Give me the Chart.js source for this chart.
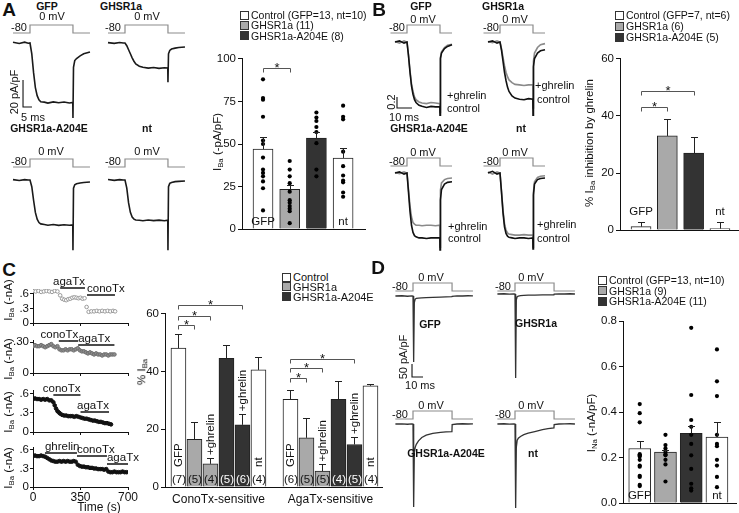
<!DOCTYPE html>
<html>
<head>
<meta charset="utf-8">
<script src="https://cdn.jsdelivr.net/npm/chart.js@4.4.1/dist/chart.umd.min.js"></script>
<style>
  body { margin: 0; background: #fff; }
  #fig { position: relative; width: 739px; height: 513px; overflow: hidden; background: #fff;
         font-family: 'Liberation Sans', Arial, Helvetica, sans-serif; color: #111; }
  #fig canvas { position: absolute; }
  .t { position: absolute; white-space: nowrap; transform: translate(-50%, -50%); font-size: 11px; line-height: 1; }
  .l { transform: translate(0, -50%); }
  .r { transform: translate(-50%, -50%) rotate(-90deg); }
  .b { font-weight: bold; font-size: 10.5px; }
  .big { font-weight: bold; font-size: 19px; }
  sub { font-size: 0.68em; vertical-align: -0.25em; line-height: 0; }
</style>
</head>
<body>
<div id="fig"></div>
<script>
// ---------- panel A: I_Ba traces (ms, pA/pF) ----------
const aTraceT = [-9.5, -6, -3, -1, 0, 1, 2, 3, 4, 5, 6, 8, 10, 13, 16, 19, 22, 23.9, 24, 24.3, 25, 26, 28, 30, 33.5];
const aGfpI = [0.5, -0.4, 0.6, -0.2, 0, -8, -22, -33, -39, -42, -43.5, -43.8, -44.5, -43.6, -44.3, -43.7, -44.4, -44, -55.5, -18, -13, -11.5, -9.5, -8, -6.7];
const aGhsI = [0.3, -0.3, 0.4, 0, 0, -2, -5, -8, -11, -13.5, -15.5, -17.2, -18, -18.6, -18.2, -18.8, -18.3, -18.5, -29, -8, -5.5, -4.5, -3.8, -3.3, -3];
const aMutI = [0.3, -0.4, 0.3, 0, 0, -5, -15, -24, -29, -31.5, -32.5, -33, -33.5, -33, -33.6, -33.1, -33.5, -33.3, -52, -6, -3.5, -2.8, -2.2, -1.8, -1.5];
const aNtI = [0.4, -0.3, 0.3, 0, 0, -6, -17, -24, -27.5, -29, -29.6, -29.8, -30.2, -29.6, -30.1, -29.7, -30.2, -29.8, -52, -5, -2.5, -1.8, -1.2, -1, -0.7];
const aStepT = [-9.5, 0, 0, 24, 24, 33.5];
const aStepV = [-80, -80, 0, 0, -80, -80];

// panel A bars: I_Ba density
const aGroups = ['GFP', 'GHSR1a', 'GHSR1a-A204E', 'nt'];
const aMean = [47, 23.3, 53.5, 41.8];
const aSem = [7, 2.5, 3.5, 6];
const aDots = [
  [88, 77, 76, 66, 52, 50, 42, 35, 33, 31, 28, 24, 11],
  [40, 35, 31, 27, 22, 17, 15.5, 13.5, 12, 10.5, 3.5],
  [68.5, 65.5, 63.5, 60, 57, 50.5, 35, 31],
  [72.5, 66, 64.5, 45.5, 37, 31.5, 28.5, 27.5, 21.5, 19]
];
const aTicks = [0, 25, 50, 75, 100];

// ---------- panel B: traces, control vs +ghrelin (normalized) ----------
const bTraceT = [-8, -5, -2, 0, 1, 2, 3, 4, 5, 6, 8, 10, 13, 16, 19, 21.9, 22, 22.3, 23, 25, 27, 30];
const bGfpCtl = [0, 0.02, -0.02, 0, -0.25, -0.55, -0.8, -0.95, -1.05, -1.1, -1.15, -1.17, -1.19, -1.17, -1.18, -1.18, -1.33, -0.3, -0.2, -0.12, -0.08, -0.05];
const bGfpGhr = [0.01, -0.02, 0.02, 0, -0.24, -0.52, -0.76, -0.9, -1.0, -1.05, -1.09, -1.11, -1.12, -1.1, -1.11, -1.12, -1.28, -0.28, -0.18, -0.1, -0.06, -0.04];
const bGhsCtl = [0, 0.02, -0.02, 0, -0.15, -0.35, -0.55, -0.7, -0.82, -0.9, -0.98, -1.02, -1.04, -1.05, -1.03, -1.04, -1.33, -0.45, -0.3, -0.2, -0.16, -0.14];
const bGhsGhr = [0.01, -0.01, 0.02, 0, -0.12, -0.28, -0.43, -0.55, -0.63, -0.69, -0.74, -0.77, -0.78, -0.79, -0.78, -0.78, -1.2, -0.35, -0.2, -0.1, -0.05, -0.03];
const bMutCtl = [0, 0.02, -0.02, 0, -0.35, -0.7, -0.95, -1.08, -1.14, -1.16, -1.18, -1.18, -1.19, -1.18, -1.18, -1.18, -1.4, -0.49, -0.3, -0.2, -0.17, -0.16];
const bMutGhr = [0.01, -0.01, 0.02, 0, -0.3, -0.6, -0.8, -0.9, -0.93, -0.95, -0.95, -0.96, -0.95, -0.95, -0.96, -0.95, -1.35, -0.31, -0.18, -0.12, -0.1, -0.09];
const bNtCtl = [0, 0.03, -0.02, 0, -0.35, -0.72, -0.98, -1.1, -1.15, -1.17, -1.18, -1.19, -1.18, -1.18, -1.19, -1.18, -1.38, -0.4, -0.2, -0.12, -0.1, -0.09];
const bNtGhr = [0.02, -0.02, 0.02, 0, -0.33, -0.68, -0.92, -1.04, -1.09, -1.11, -1.12, -1.13, -1.13, -1.12, -1.13, -1.13, -1.35, -0.35, -0.16, -0.08, -0.06, -0.05];
const bStepT = [-11, 0, 0, 22, 22, 30];
const bStepV = [-80, -80, 0, 0, -80, -80];

// panel B bars: % inhibition by ghrelin
const bMean = [1.2, 33, 27, 0.5];
const bSem = [1.8, 6, 5.7, 2.5];
const bTicks = [0, 20, 40, 60];

// ---------- panel C: time courses (s, -nA) ----------
const c1T = [0, 20, 40, 60, 80, 100, 120, 140, 160, 180, 200, 215, 230, 245, 260, 275, 290, 305, 320, 335, 350, 365, 380, 395, 410, 430, 450, 470, 490, 510, 530, 550, 570, 590, 605];
const c1I = [0.66, 0.65, 0.66, 0.64, 0.65, 0.66, 0.65, 0.64, 0.66, 0.65, 0.57, 0.5, 0.48, 0.47, 0.49, 0.5, 0.52, 0.53, 0.52, 0.51, 0.52, 0.5, 0.51, 0.33, 0.23, 0.24, 0.24, 0.25, 0.24, 0.25, 0.24, 0.25, 0.24, 0.25, 0.24];
const c2T = [0, 15, 30, 45, 60, 75, 90, 105, 120, 135, 150, 165, 180, 195, 210, 225, 240, 255, 270, 285, 300, 315, 330, 345, 360, 375, 390, 405, 420, 435, 450, 465, 480, 495, 510, 525, 540, 555, 570, 585, 600];
const c2I = [0.26, 0.27, 0.26, 0.26, 0.27, 0.26, 0.25, 0.26, 0.27, 0.28, 0.26, 0.25, 0.26, 0.23, 0.22, 0.22, 0.23, 0.22, 0.23, 0.23, 0.22, 0.23, 0.24, 0.22, 0.21, 0.21, 0.2, 0.19, 0.2, 0.19, 0.18, 0.19, 0.18, 0.18, 0.17, 0.18, 0.18, 0.17, 0.18, 0.18, 0.18];
const c3T = [0, 15, 30, 45, 60, 75, 90, 105, 120, 135, 150, 160, 170, 180, 190, 200, 215, 230, 245, 260, 275, 290, 305, 320, 335, 350, 365, 380, 395, 410, 425, 440, 455, 470, 485, 500, 515, 530, 545, 560, 575];
const c3I = [0.52, 0.53, 0.52, 0.52, 0.51, 0.52, 0.51, 0.52, 0.5, 0.5, 0.47, 0.42, 0.37, 0.33, 0.31, 0.29, 0.27, 0.26, 0.26, 0.25, 0.25, 0.25, 0.24, 0.25, 0.24, 0.23, 0.22, 0.21, 0.21, 0.2, 0.19, 0.18, 0.18, 0.17, 0.16, 0.16, 0.15, 0.14, 0.14, 0.13, 0.12];
const c4T = [0, 15, 30, 45, 60, 75, 90, 105, 120, 135, 150, 165, 180, 195, 210, 225, 240, 255, 270, 285, 300, 315, 330, 345, 360, 375, 390, 405, 420, 435, 450, 465, 480, 495, 510, 525, 540, 555, 570, 585, 600, 615, 630, 645, 660, 675, 690];
const c4I = [0.5, 0.51, 0.5, 0.5, 0.51, 0.5, 0.49, 0.47, 0.45, 0.43, 0.42, 0.41, 0.41, 0.42, 0.41, 0.42, 0.41, 0.42, 0.41, 0.41, 0.42, 0.41, 0.36, 0.34, 0.33, 0.33, 0.32, 0.32, 0.31, 0.31, 0.3, 0.3, 0.29, 0.29, 0.29, 0.28, 0.29, 0.25, 0.24, 0.24, 0.25, 0.24, 0.24, 0.24, 0.25, 0.24, 0.24];
// drug applications [name, start s, end s]
const c1Apps = [['agaTx', 200, 383], ['conoTx', 398, 604]];
const c2Apps = [['conoTx', 190, 333], ['agaTx', 333, 600]];
const c3Apps = [['conoTx', 150, 350], ['agaTx', 350, 560]];
const c4Apps = [['ghrelin', 88, 324], ['conoTx', 324, 545], ['agaTx', 545, 700]];
const tcTicks = [0, 350, 700];
const tcTickLbl = ['0', '350', '700'];

// panel C bars: % I_Ba sensitive to toxins
const cCats = ['ConoTx-sensitive', 'AgaTx-sensitive'];
const cBars = ['GFP', 'GHSR1a', 'GHSR1a +ghrelin', 'GHSR1a-A204E', 'GHSR1a-A204E +ghrelin', 'nt'];
const cCono = [48, 16.5, 8, 44.5, 21.5, 40.5];
const cConoSem = [5, 6, 2, 4.5, 3.7, 4.5];
const cAga = [30.3, 17, 5.5, 30.3, 14.7, 35];
const cAgaSem = [3.2, 7, 2.3, 6.2, 2.6, 0.7];
const cConoN = [7, 5, 4, 5, 6, 4];
const cAgaN = [6, 5, 5, 4, 5, 4];
const cTicks = [0, 20, 40, 60];

// ---------- panel D: I_Na traces (ms, pA/pF) ----------
const dTraceT = [-16, -10, -5, -1, 0, 0.4, 0.8, 1.2, 2, 3, 5, 8, 12, 18, 25, 30, 35.4, 35.6, 40, 45, 50, 54.5];
const dGfpI = [0, 1, -1, 0.5, 0, -150, -254, -25, -12, -9, -8, -7, -6, -5, -4, -3, -2.5, -1, 0.5, 0, 1, 0.5];
const dGhsI = [0, 1, -0.5, 0.5, 0, -200, -323, -22, -10, -8, -6, -5, -4.5, -4, -3.5, -3, -3, -0.5, 0.5, 0, 1, 0];
const dMutI = [0, 0.5, -1, 0.5, 0, -200, -319, -110, -90, -78, -65, -52, -43, -36, -32, -30.5, -29, -2, 0, 1, 0, 0.5];
const dNtI = [0, 1, -0.5, 0.5, 0, -200, -323, -90, -62, -55, -48, -41, -35, -29, -22, -18, -15, -2, 0, 0.5, 1, 0];
const dStepT = [-16, 0, 0, 35.5, 35.5, 54.5];
const dStepV = [-80, -80, 0, 0, -80, -80];

// panel D bars: I_Na density
const dMean = [0.24, 0.224, 0.306, 0.29];
const dSem = [0.033, 0.008, 0.032, 0.065];
const dDots = [
  [0.435, 0.395, 0.355, 0.215, 0.21, 0.205, 0.19, 0.165, 0.16, 0.12, 0.115, 0.08, 0.075],
  [0.3, 0.255, 0.24, 0.225, 0.215, 0.21, 0.19, 0.17, 0.095],
  [0.77, 0.475, 0.365, 0.335, 0.3, 0.26, 0.21, 0.15, 0.085, 0.065, 0.055],
  [0.675, 0.535, 0.47, 0.3, 0.26, 0.25, 0.19, 0.165, 0.115, 0.07]
];
const dTicks = [0, 0.2, 0.4, 0.6, 0.8];

// ---------- helpers ----------
const FF = "'Liberation Sans', Arial, Helvetica, sans-serif";
Chart.defaults.font.family = FF;
Chart.defaults.font.size = 11;
Chart.defaults.color = '#111';
const fig = document.getElementById('fig');
const WHITE = '#ffffff', GREY = '#a9a9a9', DARK = '#333333';

function xy(ts, vs) { return ts.map((t, i) => ({ x: t, y: vs[i] })); }

function mk(b) {
  const c = document.createElement('canvas');
  c.width = b.w; c.height = b.h;
  c.style.left = b.l + 'px'; c.style.top = b.t + 'px';
  c.style.width = b.w + 'px'; c.style.height = b.h + 'px';
  fig.appendChild(c);
  return c;
}

function T(x, y, s, cls, css) {
  const d = document.createElement('div');
  d.className = 't ' + (cls || '');
  d.style.left = x + 'px'; d.style.top = y + 'px';
  d.innerHTML = s;
  if (css) d.style.cssText += css;
  fig.appendChild(d);
}

function legend(x, y, dy, items, fs) {
  items.forEach(([s, c], i) => {
    const yy = y + i * dy;
    const b = document.createElement('div');
    b.style.cssText = `position:absolute;left:${x}px;top:${yy - 4.5}px;width:7px;height:7px;background:${c};border:1px solid #333`;
    fig.appendChild(b);
    T(x + 11, yy, s, 'l', 'font-size:' + fs + 'px');
  });
}

// trace chart: pixel mapping given by time-zero pixel, current-zero pixel and 0 mV pixel
function trace(box, t0px, kx, i0px, ky, v0px, sets) {
  new Chart(mk(box), {
    type: 'line',
    data: { datasets: sets },
    options: {
      responsive: false, animation: false, events: [],
      layout: { padding: 0 },
      elements: { point: { radius: 0 }, line: { tension: 0 } },
      plugins: { legend: { display: false }, tooltip: { enabled: false } },
      scales: {
        x: { type: 'linear', display: false, min: (box.l - t0px) / kx, max: (box.l + box.w - t0px) / kx },
        y: { display: false, min: (i0px - box.t - box.h) / ky, max: (i0px - box.t) / ky },
        v: { axis: 'y', display: false, min: (v0px - box.t - box.h) / 0.1, max: (v0px - box.t) / 0.1 }
      }
    }
  });
}
function line(t, v, color, w, axis) {
  return { data: xy(t, v), borderColor: color, borderWidth: w, yAxisID: axis || 'y', pointRadius: 0 };
}
function scaleBar(t, i, dt, di) {
  return line([t, t, t + dt], [i + di, i, i], '#111', 1.1);
}

// bar chart with error bars, dots, significance brackets and labels
function bars(box, area, o) {
  const datasets = [{
    type: 'bar', order: 2,
    data: o.xs.map((x, i) => ({ x, y: o.vals[i] })),
    backgroundColor: o.fills, borderColor: '#222', borderWidth: 1, barThickness: o.bw
  }];
  if (o.dots) {
    datasets.push({
      type: 'scatter', order: 1,
      data: o.dots.flatMap((arr, i) => arr.map(v => ({ x: o.xs[i], y: v }))),
      pointRadius: 2.1, backgroundColor: '#000', borderWidth: 0
    });
  }
  const extras = {
    id: 'extras',
    afterDatasetsDraw(ch) {
      const ctx = ch.ctx, X = ch.scales.x, Y = ch.scales.y, bottom = ch.chartArea.bottom;
      ctx.save();
      ctx.strokeStyle = '#222'; ctx.lineWidth = 1;
      o.xs.forEach((x, i) => {
        const px = Math.round(X.getPixelForValue(x)) + 0.5;
        const y0 = Y.getPixelForValue(o.vals[i]), y1 = Math.round(Y.getPixelForValue(o.vals[i] + o.err[i])) + 0.5;
        ctx.beginPath(); ctx.moveTo(px, y0); ctx.lineTo(px, y1);
        ctx.moveTo(px - 3.5, y1); ctx.lineTo(px + 3.5, y1); ctx.stroke();
      });
      ctx.strokeStyle = '#555'; ctx.fillStyle = '#111';
      (o.sig || []).forEach(([a, b], k) => {
        const x1 = Math.round(X.getPixelForValue(o.xs[a])) + 0.5, x2 = Math.round(X.getPixelForValue(o.xs[b])) + 0.5;
        const y = Math.round(Y.getPixelForValue(o.sigY[k])) + 0.5;
        ctx.beginPath(); ctx.moveTo(x1, y + 4); ctx.lineTo(x1, y); ctx.lineTo(x2, y); ctx.lineTo(x2, y + 4); ctx.stroke();
        ctx.font = '13px ' + FF; ctx.textAlign = 'center'; ctx.textBaseline = 'alphabetic';
        ctx.fillText('*', (x1 + x2) / 2, y + 3.5);
      });
      ctx.font = '11.5px ' + FF;
      (o.tags || []).forEach((s, i) => {
        if (!s) return;
        const px = X.getPixelForValue(o.xs[i]);
        if (o.tagMode === 'rot') {
          const yb = s === '+ghrelin' ? Y.getPixelForValue(o.vals[i] + o.err[i]) - 3 : bottom - 20;
          ctx.save(); ctx.translate(px + 0.5, yb); ctx.rotate(-Math.PI / 2);
          ctx.textAlign = 'left'; ctx.textBaseline = 'middle'; ctx.fillStyle = '#111';
          ctx.fillText(s, 0, 0); ctx.restore();
        } else {
          ctx.textAlign = 'center'; ctx.textBaseline = 'middle';
          const y = o.tagMode === 'above' ? Y.getPixelForValue(o.vals[i] + o.err[i]) - 10 : bottom - 7;
          ctx.fillText(s, px, y);
        }
      });
      (o.counts || []).forEach((n, i) => {
        ctx.fillStyle = o.fills[i] === DARK ? '#fff' : '#111';
        ctx.textAlign = 'center'; ctx.textBaseline = 'middle';
        ctx.fillText('(' + n + ')', X.getPixelForValue(o.xs[i]) + 0.5, bottom - 7);
      });
      ctx.fillStyle = '#111'; ctx.font = '12px ' + FF;
      (o.cats || []).forEach(([s, xc]) => {
        ctx.textAlign = 'center'; ctx.textBaseline = 'middle';
        ctx.fillText(s, X.getPixelForValue(xc), bottom + 13);
      });
      ctx.restore();
    }
  };
  new Chart(mk(box), {
    type: 'bar',
    data: { datasets },
    options: {
      responsive: false, animation: false, events: [],
      layout: { padding: { top: area.t - box.t, right: box.l + box.w - area.r, left: 0, bottom: 0 } },
      plugins: { legend: { display: false }, tooltip: { enabled: false } },
      scales: {
        x: {
          type: 'linear', min: o.xmin, max: o.xmax, offset: false,
          grid: { display: false, offset: false }, ticks: { display: false },
          border: { color: '#111' },
          afterFit: s => { s.height = box.t + box.h - area.b; }
        },
        y: {
          min: o.ticks[0], max: o.ticks[o.ticks.length - 1],
          afterBuildTicks: s => { s.ticks = o.ticks.map(value => ({ value })); },
          ticks: { callback: (v, i) => o.tickLbl[i], font: { size: 11.5 }, color: '#111', padding: 2 },
          grid: { drawOnChartArea: false, tickLength: 4, color: '#111' },
          border: { color: '#111' },
          afterFit: s => { s.width = area.l - box.l; }
        }
      }
    },
    plugins: [extras]
  });
}

// time-course scatter with drug application bars
function timeCourse(box, area, ymax, ticks, lbls, t, v, pt, apps, lv, al, showX) {
  const appsPlugin = {
    id: 'apps',
    afterDatasetsDraw(ch) {
      const ctx = ch.ctx, X = ch.scales.x, Y = ch.scales.y;
      ctx.save();
      ctx.strokeStyle = '#111'; ctx.lineWidth = 1.5; ctx.fillStyle = '#111';
      ctx.font = '11.5px ' + FF; ctx.textBaseline = 'bottom';
      apps.forEach(([name, a, b], k) => {
        const x0 = X.getPixelForValue(a), x1 = X.getPixelForValue(b), y = Math.round(Y.getPixelForValue(lv[k]));
        ctx.beginPath(); ctx.moveTo(x0, y); ctx.lineTo(x1, y); ctx.stroke();
        ctx.textAlign = al[k];
        ctx.fillText(name, al[k] === 'right' ? x1 : x0, y);
      });
      ctx.restore();
    }
  };
  new Chart(mk(box), {
    type: 'scatter',
    data: { datasets: [{ data: xy(t, v), pointRadius: 1.8, pointBorderWidth: 1, pointBackgroundColor: pt[0], pointBorderColor: pt[1] }] },
    options: {
      responsive: false, animation: false, events: [],
      layout: { padding: { top: area.t - box.t, right: box.l + box.w - area.r, left: 0, bottom: 0 } },
      plugins: { legend: { display: false }, tooltip: { enabled: false } },
      scales: {
        x: {
          type: 'linear', min: 0, max: 700,
          afterBuildTicks: s => { s.ticks = tcTicks.map(value => ({ value })); },
          ticks: { display: showX, callback: (val, i) => tcTickLbl[i], font: { size: 12 }, color: '#111', padding: 0, maxRotation: 0, autoSkip: false },
          grid: { drawOnChartArea: false, tickLength: 3, color: '#111' },
          border: { color: '#111' },
          afterFit: s => { s.height = box.t + box.h - area.b; }
        },
        y: {
          min: 0, max: ymax,
          afterBuildTicks: s => { s.ticks = ticks.map(value => ({ value })); },
          ticks: { callback: (val, i) => lbls[i], font: { size: 11.5 }, color: '#111', padding: 1 },
          grid: { drawOnChartArea: false, tickLength: 3, color: '#111' },
          border: { color: '#111' },
          afterFit: s => { s.width = area.l - box.l; }
        }
      }
    },
    plugins: [appsPlugin]
  });
}

// ================= Panel A =================
T(9, 9, 'A', 'big');
const stepA = t => line(aStepT, aStepV, '#8c8c8c', 1.2, 'v');
const trA = v => line(aTraceT, v, '#1a1a1a', 1.6);
trace({ l: 8, t: 18, w: 86, h: 106 }, 30, 1.79, 43, 1.35, 25,
  [stepA(), trA(aGfpI), scaleBar(-3.9, -47.4, 5, 20)]);
trace({ l: 103, t: 18, w: 86, h: 106 }, 125, 1.79, 43, 1.35, 25, [stepA(), trA(aGhsI)]);
trace({ l: 8, t: 150, w: 86, h: 106 }, 30, 1.79, 180, 1.35, 159, [stepA(), trA(aMutI)]);
trace({ l: 103, t: 150, w: 86, h: 106 }, 125, 1.79, 180, 1.35, 159, [stepA(), trA(aNtI)]);
T(47, 6, 'GFP', 'b'); T(121, 6, 'GHSR1a', 'b');
T(49, 128, 'GHSR1a-A204E', 'b'); T(147, 128, 'nt', 'b');
T(52, 16, '0 mV'); T(147, 16, '0 mV'); T(19, 27, '-80'); T(113, 27, '-80');
T(51, 151, '0 mV'); T(147, 151, '0 mV'); T(19, 161, '-80'); T(113, 161, '-80');
T(14, 92, '20 pA/pF', 'r'); T(33, 117, '5 ms');

bars({ l: 205, t: 50, w: 165, h: 188 }, { l: 242, t: 58, r: 365, b: 230 }, {
  xs: [1, 2, 3, 4], xmin: 0.213, xmax: 4.82, bw: 20,
  vals: aMean, err: aSem, fills: [WHITE, GREY, DARK, WHITE], dots: aDots,
  ticks: aTicks, tickLbl: aTicks.map(String),
  sig: [[0, 1]], sigY: [94.8],
  tags: ['GFP', '', '', 'nt'], tagMode: 'in'
});
T(218, 142, 'I<sub>Ba</sub> (-pA/pF)', 'r', 'font-size:11.5px');
legend(240, 15, 10.3, [['Control (GFP=13, nt=10)', WHITE], ['GHSR1a (11)', GREY], ['GHSR1a-A204E (8)', DARK]], 10.5);

// ================= Panel B =================
T(379, 9, 'B', 'big');
const stepB = () => line(bStepT, bStepV, '#8c8c8c', 1.2, 'v');
const ctlB = v => line(bTraceT, v, '#111', 1.6);
const ghrB = v => line(bTraceT, v, '#8a8a8a', 1.6);
trace({ l: 386, t: 18, w: 70, h: 106 }, 407, 1.5, 42, 55, 25,
  [stepB(), ctlB(bGfpCtl), ghrB(bGfpGhr), scaleBar(-6.67, -1.2, 10, 0.2)]);
trace({ l: 482, t: 18, w: 66, h: 106 }, 500, 1.5, 42, 55, 25,
  [stepB(), ctlB(bGhsCtl), ghrB(bGhsGhr)]);
trace({ l: 386, t: 150, w: 70, h: 106 }, 407, 1.5, 173, 55, 158,
  [stepB(), ctlB(bMutCtl), ghrB(bMutGhr)]);
trace({ l: 482, t: 150, w: 66, h: 106 }, 500, 1.5, 173, 55, 158,
  [stepB(), ctlB(bNtCtl), ghrB(bNtGhr)]);
T(421, 6, 'GFP', 'b'); T(503, 6, 'GHSR1a', 'b');
T(429, 128, 'GHSR1a-A204E', 'b'); T(521, 128, 'nt', 'b');
T(423, 19, '0 mV'); T(515, 19, '0 mV'); T(397, 27, '-80'); T(491, 27, '-80');
T(423, 152, '0 mV'); T(515, 152, '0 mV'); T(397, 161, '-80'); T(491, 161, '-80');
T(391, 102, '0.2', 'r'); T(404, 117, '10 ms');
T(447, 95, '+ghrelin', 'l'); T(447, 108, 'control', 'l');
T(535, 85, '+ghrelin', 'l'); T(537, 99, 'control', 'l');
T(448, 226, '+ghrelin', 'l'); T(448, 238, 'control', 'l');
T(537, 224, '+ghrelin', 'l'); T(537, 238, 'control', 'l');

bars({ l: 588, t: 50, w: 152, h: 189 }, { l: 620, t: 58, r: 738, b: 231 }, {
  xs: [1, 2, 3, 4], xmin: 0.2, xmax: 4.687, bw: 20,
  vals: bMean, err: bSem, fills: [WHITE, GREY, DARK, WHITE],
  ticks: bTicks, tickLbl: bTicks.map(String),
  sig: [[0, 1], [0, 2]], sigY: [43, 48.6],
  tags: ['GFP', '', '', 'nt'], tagMode: 'above'
});
T(590, 143, '% I<sub>Ba</sub> inhibition by ghrelin', 'r', 'font-size:11.5px');
legend(615, 15, 11, [['Control (GFP=7, nt=6)', WHITE], ['GHSR1a (6)', GREY], ['GHSR1a-A204E (5)', DARK]], 10.5);

// ================= Panel C =================
T(9, 269, 'C', 'big');
timeCourse({ l: 10, t: 272, w: 130, h: 59 }, { l: 33, t: 289, r: 128, b: 323 }, 0.70, [0, 0.3, 0.6], ['0', '.3', '.6'],
  c1T, c1I, ['#fff', '#9a9a9a'], c1Apps, [0.72, 0.58], ['right', 'left'], false);
timeCourse({ l: 10, t: 326, w: 130, h: 55 }, { l: 33, t: 340, r: 128, b: 373 }, 0.32, [0, 0.15, 0.30], ['0', '.15', '.30'],
  c2T, c2I, ['#8c8c8c', '#6e6e6e'], c2Apps, [0.31, 0.27], ['right', 'left'], false);
timeCourse({ l: 10, t: 379, w: 130, h: 61 }, { l: 33, t: 390, r: 128, b: 432 }, 0.663, [0, 0.3, 0.6], ['0', '.3', '.6'],
  c3T, c3I, ['#111', '#111'], c3Apps, [0.58, 0.32], ['right', 'right'], false);
timeCourse({ l: 10, t: 436, w: 130, h: 68 }, { l: 33, t: 447, r: 128, b: 487 }, 0.648, [0, 0.3, 0.6], ['0', '.3', '.6'],
  c4T, c4I, ['#111', '#111'], c4Apps, [0.55, 0.5, 0.37], ['left', 'left', 'left'], true);
[300, 359, 412, 468].forEach(y => T(9, y, 'I<sub>Ba</sub> (-nA)', 'r', 'font-size:11.5px'));
T(99, 507, 'Time (s)', '', 'font-size:12px');

const cFill = [WHITE, GREY, GREY, DARK, DARK, WHITE];
const cTag = ['GFP', '', '+ghrelin', '', '+ghrelin', 'nt'];
bars({ l: 140, t: 290, w: 245, h: 223 }, { l: 165, t: 313.5, r: 382, b: 487 }, {
  xs: [1, 2, 3, 4, 5, 6, 8, 9, 10, 11, 12, 13], xmin: 0.16, xmax: 13.72, bw: 15,
  vals: cCono.concat(cAga), err: cConoSem.concat(cAgaSem), fills: cFill.concat(cFill),
  ticks: cTicks, tickLbl: cTicks.map(String),
  sig: [[0, 1], [0, 2], [0, 4], [6, 7], [6, 8], [6, 10]], sigY: [55.9, 59.3, 62.8, 37.6, 41, 44.1],
  tags: cTag.concat(cTag), tagMode: 'rot',
  counts: cConoN.concat(cAgaN),
  cats: [[cCats[0], 3.5], [cCats[1], 10.5]]
});
T(142, 372, '% I<sub>Ba</sub>', 'r', 'font-size:11.5px');
legend(282, 277, 9.8, [['Control', WHITE], ['GHSR1a', GREY], ['GHSR1a-A204E', DARK]], 11);

// ================= Panel D =================
T(378, 267, 'D', 'big');
const stepD = () => line(dStepT, dStepV, '#8c8c8c', 1.2, 'v');
const trD = v => line(dTraceT, v, '#333', 1.3);
trace({ l: 390, t: 272, w: 90, h: 118 }, 413, 1.1, 296, 0.26, 283,
  [stepD(), trD(dGfpI), scaleBar(-0.9, -311.5, 10, 50)]);
trace({ l: 494, t: 272, w: 86, h: 118 }, 515, 1.1, 294, 0.26, 283, [stepD(), trD(dGhsI)]);
trace({ l: 390, t: 400, w: 90, h: 113 }, 413, 1.1, 424, 0.26, 411, [stepD(), trD(dMutI)]);
trace({ l: 494, t: 400, w: 86, h: 113 }, 515, 1.1, 424, 0.26, 411, [stepD(), trD(dNtI)]);
T(430, 324, 'GFP', 'b'); T(536, 323, 'GHSR1a', 'b');
T(446, 453, 'GHSR1a-A204E', 'b'); T(533, 453, 'nt', 'b');
T(431, 277, '0 mV'); T(531, 277, '0 mV'); T(400, 286, '-80'); T(503, 286, '-80');
T(431, 405, '0 mV'); T(531, 405, '0 mV'); T(400, 414, '-80'); T(503, 414, '-80');
T(403, 357, '50 pA/pF', 'r'); T(420, 385, '10 ms');

bars({ l: 596, t: 312, w: 144, h: 200 }, { l: 623, t: 321, r: 738, b: 504 }, {
  xs: [1, 2, 3, 4], xmin: 0.35, xmax: 4.74, bw: 22,
  vals: dMean, err: dSem, fills: [WHITE, GREY, DARK, WHITE], dots: dDots,
  ticks: dTicks, tickLbl: dTicks.map(v => v.toFixed(1)),
  tags: ['GFP', '', '', 'nt'], tagMode: 'in'
});
T(592, 423, 'I<sub>Na</sub> (-nA/pF)', 'r', 'font-size:11.5px');
legend(598, 280, 10.5, [['Control (GFP=13, nt=10)', WHITE], ['GHSR1a (9)', GREY], ['GHSR1a-A204E (11)', DARK]], 10.5);
</script>
</body>
</html>
